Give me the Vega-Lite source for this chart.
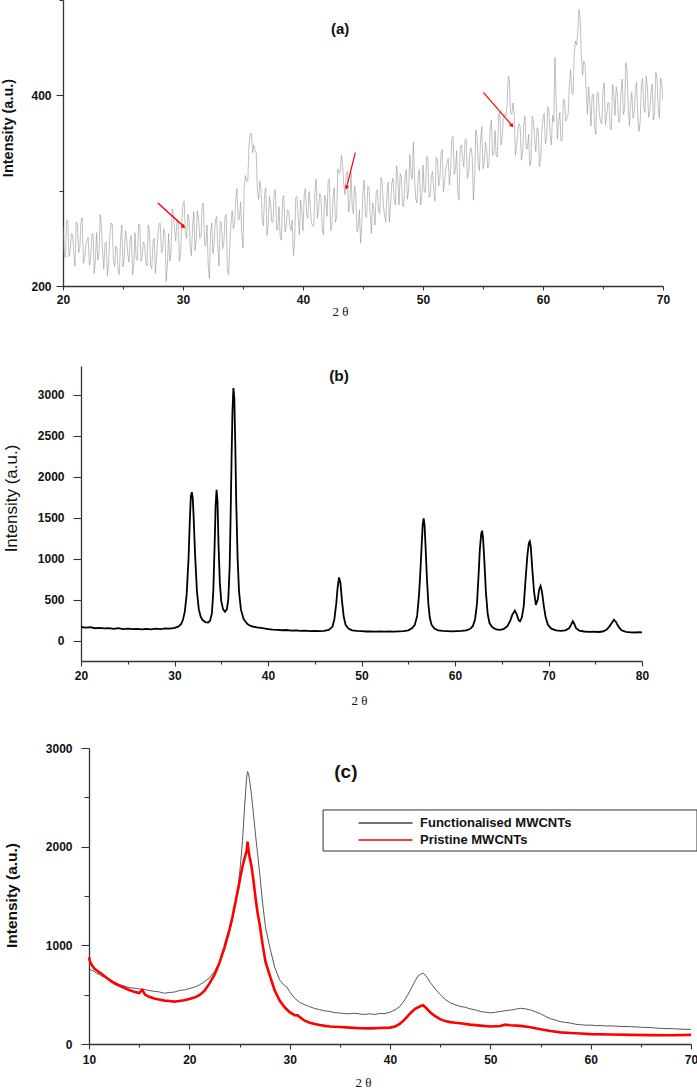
{
"$schema":"https://vega.github.io/schema/vega-lite/v6.json",
"padding":{"left":0,"top":-6,"right":0,"bottom":0},
"config":{"view":{"stroke":null},"axis":{"labelFont":"Liberation Sans","labelFontWeight":"bold","labelColor":"#111","labelFontSize":12,"titleFont":"Liberation Sans","titleColor":"#111","domainColor":"#333","tickColor":"#333","domainWidth":1.3,"tickWidth":1.1,"grid":false,"labelFlush":false,"labelOverlap":false,"format":"d"}},
"datasets":{
"a":[{"t":20.0,"i":263},{"t":20.2,"i":230},{"t":20.4,"i":269},{"t":20.6,"i":237},{"t":20.8,"i":254},{"t":21.0,"i":221},{"t":21.2,"i":265},{"t":21.4,"i":239},{"t":21.6,"i":272},{"t":21.8,"i":229},{"t":22.0,"i":248},{"t":22.2,"i":222},{"t":22.4,"i":254},{"t":22.6,"i":213},{"t":22.8,"i":256},{"t":23.0,"i":235},{"t":23.2,"i":262},{"t":23.4,"i":218},{"t":23.6,"i":246},{"t":23.8,"i":223},{"t":24.0,"i":266},{"t":24.2,"i":228},{"t":24.4,"i":242},{"t":24.6,"i":214},{"t":24.8,"i":251},{"t":25.0,"i":220},{"t":25.2,"i":258},{"t":25.4,"i":233},{"t":25.6,"i":249},{"t":25.8,"i":212},{"t":26.0,"i":256},{"t":26.2,"i":227},{"t":26.4,"i":264},{"t":26.6,"i":231},{"t":26.8,"i":243},{"t":27.0,"i":221},{"t":27.2,"i":258},{"t":27.4,"i":218},{"t":27.6,"i":250},{"t":27.8,"i":230},{"t":28.0,"i":265},{"t":28.2,"i":235},{"t":28.4,"i":260},{"t":28.6,"i":205},{"t":28.8,"i":255},{"t":29.0,"i":235},{"t":29.2,"i":275},{"t":29.4,"i":247},{"t":29.6,"i":265},{"t":29.8,"i":234},{"t":30.0,"i":286},{"t":30.2,"i":255},{"t":30.4,"i":275},{"t":30.6,"i":242},{"t":30.8,"i":263},{"t":31.0,"i":237},{"t":31.2,"i":279},{"t":31.4,"i":250},{"t":31.6,"i":285},{"t":31.8,"i":244},{"t":32.0,"i":264},{"t":32.2,"i":208},{"t":32.4,"i":266},{"t":32.6,"i":246},{"t":32.8,"i":273},{"t":33.0,"i":221},{"t":33.2,"i":266},{"t":33.4,"i":245},{"t":33.6,"i":275},{"t":33.8,"i":212},{"t":34.0,"i":266},{"t":34.2,"i":260},{"t":34.4,"i":293},{"t":34.6,"i":269},{"t":34.8,"i":288},{"t":35.0,"i":240},{"t":35.2,"i":316},{"t":35.4,"i":310},{"t":35.6,"i":360},{"t":35.8,"i":340},{"t":36.0,"i":342},{"t":36.2,"i":301},{"t":36.4,"i":310},{"t":36.6,"i":270},{"t":36.8,"i":297},{"t":37.0,"i":253},{"t":37.2,"i":294},{"t":37.4,"i":267},{"t":37.6,"i":299},{"t":37.8,"i":259},{"t":38.0,"i":283},{"t":38.2,"i":248},{"t":38.4,"i":295},{"t":38.6,"i":262},{"t":38.8,"i":279},{"t":39.0,"i":258},{"t":39.2,"i":232},{"t":39.4,"i":293},{"t":39.6,"i":271},{"t":39.8,"i":290},{"t":40.0,"i":258},{"t":40.2,"i":302},{"t":40.4,"i":271},{"t":40.6,"i":285},{"t":40.8,"i":263},{"t":41.0,"i":301},{"t":41.2,"i":271},{"t":41.4,"i":297},{"t":41.6,"i":260},{"t":41.8,"i":295},{"t":42.0,"i":273},{"t":42.2,"i":312},{"t":42.4,"i":262},{"t":42.6,"i":303},{"t":42.8,"i":272},{"t":43.0,"i":318},{"t":43.2,"i":337},{"t":43.4,"i":306},{"t":43.6,"i":317},{"t":43.8,"i":278},{"t":44.0,"i":319},{"t":44.2,"i":276},{"t":44.4,"i":296},{"t":44.6,"i":261},{"t":44.8,"i":245},{"t":45.0,"i":300},{"t":45.2,"i":273},{"t":45.4,"i":305},{"t":45.6,"i":276},{"t":45.8,"i":287},{"t":46.0,"i":264},{"t":46.2,"i":301},{"t":46.4,"i":276},{"t":46.6,"i":309},{"t":46.8,"i":274},{"t":47.0,"i":298},{"t":47.2,"i":267},{"t":47.4,"i":308},{"t":47.6,"i":291},{"t":47.8,"i":326},{"t":48.0,"i":285},{"t":48.2,"i":314},{"t":48.4,"i":283},{"t":48.6,"i":322},{"t":48.8,"i":301},{"t":49.0,"i":318},{"t":49.2,"i":351},{"t":49.4,"i":291},{"t":49.6,"i":315},{"t":49.8,"i":285},{"t":50.0,"i":327},{"t":50.2,"i":298},{"t":50.4,"i":335},{"t":50.6,"i":294},{"t":50.8,"i":320},{"t":51.0,"i":289},{"t":51.2,"i":333},{"t":51.4,"i":311},{"t":51.6,"i":343},{"t":51.8,"i":309},{"t":52.0,"i":329},{"t":52.2,"i":306},{"t":52.4,"i":355},{"t":52.6,"i":317},{"t":52.8,"i":342},{"t":53.0,"i":290},{"t":53.2,"i":348},{"t":53.4,"i":325},{"t":53.6,"i":354},{"t":53.8,"i":319},{"t":54.0,"i":345},{"t":54.2,"i":290},{"t":54.4,"i":364},{"t":54.6,"i":329},{"t":54.8,"i":355},{"t":55.0,"i":323},{"t":55.2,"i":351},{"t":55.4,"i":324},{"t":55.6,"i":366},{"t":55.8,"i":337},{"t":56.0,"i":363},{"t":56.2,"i":336},{"t":56.4,"i":383},{"t":56.6,"i":357},{"t":56.8,"i":380},{"t":57.0,"i":388},{"t":57.2,"i":417},{"t":57.4,"i":380},{"t":57.6,"i":380},{"t":57.8,"i":347},{"t":58.0,"i":370},{"t":58.2,"i":332},{"t":58.4,"i":370},{"t":58.6,"i":344},{"t":58.8,"i":359},{"t":59.0,"i":331},{"t":59.2,"i":373},{"t":59.4,"i":341},{"t":59.6,"i":365},{"t":59.8,"i":332},{"t":60.0,"i":377},{"t":60.2,"i":349},{"t":60.4,"i":388},{"t":60.6,"i":358},{"t":60.8,"i":379},{"t":61.0,"i":440},{"t":61.2,"i":354},{"t":61.4,"i":382},{"t":61.6,"i":353},{"t":61.8,"i":394},{"t":62.0,"i":376},{"t":62.2,"i":413},{"t":62.4,"i":403},{"t":62.6,"i":442},{"t":62.8,"i":453},{"t":63.0,"i":490},{"t":63.2,"i":440},{"t":63.4,"i":436},{"t":63.6,"i":404},{"t":63.8,"i":409},{"t":64.0,"i":368},{"t":64.2,"i":401},{"t":64.4,"i":359},{"t":64.6,"i":403},{"t":64.8,"i":372},{"t":65.0,"i":405},{"t":65.2,"i":369},{"t":65.4,"i":392},{"t":65.6,"i":365},{"t":65.8,"i":411},{"t":66.0,"i":379},{"t":66.2,"i":402},{"t":66.4,"i":372},{"t":66.6,"i":417},{"t":66.8,"i":385},{"t":67.0,"i":427},{"t":67.2,"i":368},{"t":67.4,"i":403},{"t":67.6,"i":381},{"t":67.8,"i":414},{"t":68.0,"i":362},{"t":68.2,"i":411},{"t":68.4,"i":387},{"t":68.6,"i":420},{"t":68.8,"i":377},{"t":69.0,"i":402},{"t":69.2,"i":374},{"t":69.4,"i":424},{"t":69.6,"i":387},{"t":69.8,"i":418},{"t":70.0,"i":395},
{"t":20.1,"i":233},{"t":20.3,"i":269},{"t":20.5,"i":231},{"t":20.7,"i":255},{"t":20.9,"i":232},{"t":21.1,"i":267},{"t":21.3,"i":235},{"t":21.5,"i":268},{"t":21.7,"i":224},{"t":21.9,"i":243},{"t":22.1,"i":251},{"t":22.3,"i":227},{"t":22.5,"i":255},{"t":22.7,"i":227},{"t":22.9,"i":227},{"t":23.1,"i":275},{"t":23.3,"i":237},{"t":23.5,"i":245},{"t":23.7,"i":211},{"t":23.9,"i":252},{"t":24.1,"i":265},{"t":24.3,"i":220},{"t":24.5,"i":238},{"t":24.7,"i":212},{"t":24.9,"i":264},{"t":25.1,"i":230},{"t":25.3,"i":251},{"t":25.5,"i":225},{"t":25.7,"i":253},{"t":25.9,"i":222},{"t":26.1,"i":228},{"t":26.3,"i":265},{"t":26.5,"i":226},{"t":26.7,"i":246},{"t":26.9,"i":226},{"t":27.1,"i":264},{"t":27.3,"i":221},{"t":27.5,"i":246},{"t":27.7,"i":213},{"t":27.9,"i":252},{"t":28.1,"i":266},{"t":28.3,"i":237},{"t":28.5,"i":254},{"t":28.7,"i":222},{"t":28.9,"i":226},{"t":29.1,"i":281},{"t":29.3,"i":258},{"t":29.5,"i":269},{"t":29.7,"i":226},{"t":29.9,"i":267},{"t":30.1,"i":289},{"t":30.3,"i":250},{"t":30.5,"i":269},{"t":30.7,"i":232},{"t":30.9,"i":278},{"t":31.1,"i":249},{"t":31.3,"i":270},{"t":31.5,"i":252},{"t":31.7,"i":287},{"t":31.9,"i":242},{"t":32.1,"i":222},{"t":32.3,"i":256},{"t":32.5,"i":234},{"t":32.7,"i":269},{"t":32.9,"i":241},{"t":33.1,"i":268},{"t":33.3,"i":239},{"t":33.5,"i":272},{"t":33.7,"i":217},{"t":33.9,"i":243},{"t":34.1,"i":279},{"t":34.3,"i":266},{"t":34.5,"i":302},{"t":34.7,"i":271},{"t":34.9,"i":255},{"t":35.1,"i":304},{"t":35.3,"i":310},{"t":35.5,"i":348},{"t":35.7,"i":360},{"t":35.9,"i":348},{"t":36.1,"i":340},{"t":36.3,"i":291},{"t":36.5,"i":300},{"t":36.7,"i":263},{"t":36.9,"i":303},{"t":37.1,"i":265},{"t":37.3,"i":286},{"t":37.5,"i":267},{"t":37.7,"i":301},{"t":37.9,"i":259},{"t":38.1,"i":252},{"t":38.3,"i":291},{"t":38.5,"i":257},{"t":38.7,"i":280},{"t":38.9,"i":263},{"t":39.1,"i":269},{"t":39.3,"i":246},{"t":39.5,"i":294},{"t":39.7,"i":254},{"t":39.9,"i":278},{"t":40.1,"i":296},{"t":40.3,"i":276},{"t":40.5,"i":299},{"t":40.7,"i":266},{"t":40.9,"i":263},{"t":41.1,"i":312},{"t":41.3,"i":281},{"t":41.5,"i":292},{"t":41.7,"i":254},{"t":41.9,"i":291},{"t":42.1,"i":311},{"t":42.3,"i":258},{"t":42.5,"i":293},{"t":42.7,"i":267},{"t":42.9,"i":323},{"t":43.1,"i":319},{"t":43.3,"i":327},{"t":43.5,"i":296},{"t":43.7,"i":320},{"t":43.9,"i":287},{"t":44.1,"i":284},{"t":44.3,"i":305},{"t":44.5,"i":257},{"t":44.7,"i":280},{"t":44.9,"i":267},{"t":45.1,"i":311},{"t":45.3,"i":272},{"t":45.5,"i":303},{"t":45.7,"i":255},{"t":45.9,"i":280},{"t":46.1,"i":299},{"t":46.3,"i":278},{"t":46.5,"i":314},{"t":46.7,"i":284},{"t":46.9,"i":267},{"t":47.1,"i":309},{"t":47.3,"i":285},{"t":47.5,"i":313},{"t":47.7,"i":285},{"t":47.9,"i":313},{"t":48.1,"i":318},{"t":48.3,"i":284},{"t":48.5,"i":313},{"t":48.7,"i":291},{"t":48.9,"i":338},{"t":49.1,"i":312},{"t":49.3,"i":310},{"t":49.5,"i":287},{"t":49.7,"i":322},{"t":49.9,"i":294},{"t":50.1,"i":299},{"t":50.3,"i":336},{"t":50.5,"i":293},{"t":50.7,"i":316},{"t":50.9,"i":299},{"t":51.1,"i":335},{"t":51.3,"i":305},{"t":51.5,"i":339},{"t":51.7,"i":299},{"t":51.9,"i":323},{"t":52.1,"i":334},{"t":52.3,"i":320},{"t":52.5,"i":357},{"t":52.7,"i":322},{"t":52.9,"i":297},{"t":53.1,"i":345},{"t":53.3,"i":334},{"t":53.5,"i":353},{"t":53.7,"i":313},{"t":53.9,"i":339},{"t":54.1,"i":336},{"t":54.3,"i":312},{"t":54.5,"i":357},{"t":54.7,"i":321},{"t":54.9,"i":367},{"t":55.1,"i":328},{"t":55.3,"i":343},{"t":55.5,"i":329},{"t":55.7,"i":374},{"t":55.9,"i":338},{"t":56.1,"i":336},{"t":56.3,"i":379},{"t":56.5,"i":348},{"t":56.7,"i":378},{"t":56.9,"i":378},{"t":57.1,"i":420},{"t":57.3,"i":382},{"t":57.5,"i":392},{"t":57.7,"i":337},{"t":57.9,"i":363},{"t":58.1,"i":367},{"t":58.3,"i":340},{"t":58.5,"i":378},{"t":58.7,"i":344},{"t":58.9,"i":326},{"t":59.1,"i":378},{"t":59.3,"i":354},{"t":59.5,"i":366},{"t":59.7,"i":325},{"t":59.9,"i":362},{"t":60.1,"i":381},{"t":60.3,"i":354},{"t":60.5,"i":383},{"t":60.7,"i":348},{"t":60.9,"i":372},{"t":61.1,"i":392},{"t":61.3,"i":373},{"t":61.5,"i":352},{"t":61.7,"i":396},{"t":61.9,"i":373},{"t":62.1,"i":381},{"t":62.3,"i":427},{"t":62.5,"i":401},{"t":62.7,"i":457},{"t":62.9,"i":466},{"t":63.1,"i":480},{"t":63.3,"i":421},{"t":63.5,"i":432},{"t":63.7,"i":380},{"t":63.9,"i":393},{"t":64.1,"i":401},{"t":64.3,"i":369},{"t":64.5,"i":402},{"t":64.7,"i":380},{"t":64.9,"i":370},{"t":65.1,"i":413},{"t":65.3,"i":378},{"t":65.5,"i":392},{"t":65.7,"i":364},{"t":65.9,"i":402},{"t":66.1,"i":409},{"t":66.3,"i":372},{"t":66.5,"i":405},{"t":66.7,"i":380},{"t":66.9,"i":434},{"t":67.1,"i":389},{"t":67.3,"i":391},{"t":67.5,"i":376},{"t":67.7,"i":405},{"t":67.9,"i":376},{"t":68.1,"i":373},{"t":68.3,"i":418},{"t":68.5,"i":382},{"t":68.7,"i":408},{"t":68.9,"i":384},{"t":69.1,"i":412},{"t":69.3,"i":382},{"t":69.5,"i":418},{"t":69.7,"i":376},{"t":69.9,"i":411}],
"b":[{"t":20.0,"i":165},{"t":20.5,"i":158},{"t":21.0,"i":162},{"t":21.5,"i":150},{"t":22.0,"i":155},{"t":22.5,"i":148},{"t":23.0,"i":152},{"t":23.5,"i":143},{"t":24.0,"i":150},{"t":24.5,"i":140},{"t":25.0,"i":146},{"t":25.5,"i":138},{"t":26.0,"i":143},{"t":26.5,"i":136},{"t":27.0,"i":142},{"t":27.5,"i":137},{"t":28.0,"i":145},{"t":28.5,"i":140},{"t":29.0,"i":148},{"t":29.5,"i":146},{"t":30.0,"i":155},{"t":30.4,"i":170},{"t":30.7,"i":200},{"t":30.9,"i":250},{"t":31.1,"i":350},{"t":31.3,"i":560},{"t":31.5,"i":1000},{"t":31.65,"i":1500},{"t":31.75,"i":1760},{"t":31.85,"i":1810},{"t":31.95,"i":1740},{"t":32.05,"i":1500},{"t":32.2,"i":1050},{"t":32.4,"i":600},{"t":32.6,"i":380},{"t":32.8,"i":290},{"t":33.0,"i":250},{"t":33.3,"i":225},{"t":33.6,"i":220},{"t":33.8,"i":240},{"t":34.0,"i":330},{"t":34.15,"i":600},{"t":34.3,"i":1200},{"t":34.4,"i":1650},{"t":34.5,"i":1840},{"t":34.6,"i":1700},{"t":34.7,"i":1200},{"t":34.85,"i":700},{"t":35.0,"i":480},{"t":35.2,"i":380},{"t":35.4,"i":350},{"t":35.6,"i":380},{"t":35.75,"i":500},{"t":35.9,"i":900},{"t":36.0,"i":1500},{"t":36.1,"i":2200},{"t":36.2,"i":2800},{"t":36.3,"i":3080},{"t":36.4,"i":2950},{"t":36.5,"i":2400},{"t":36.6,"i":1700},{"t":36.75,"i":1000},{"t":36.9,"i":600},{"t":37.1,"i":380},{"t":37.4,"i":260},{"t":37.8,"i":200},{"t":38.2,"i":175},{"t":38.8,"i":160},{"t":39.4,"i":150},{"t":40.0,"i":140},{"t":40.5,"i":132},{"t":41.0,"i":130},{"t":41.5,"i":125},{"t":42.0,"i":128},{"t":42.5,"i":120},{"t":43.0,"i":124},{"t":43.5,"i":117},{"t":44.0,"i":120},{"t":44.5,"i":115},{"t":45.0,"i":118},{"t":45.5,"i":114},{"t":46.0,"i":118},{"t":46.5,"i":130},{"t":46.9,"i":170},{"t":47.1,"i":260},{"t":47.3,"i":450},{"t":47.45,"i":650},{"t":47.6,"i":770},{"t":47.75,"i":700},{"t":47.9,"i":500},{"t":48.1,"i":290},{"t":48.3,"i":190},{"t":48.6,"i":145},{"t":49.0,"i":125},{"t":49.5,"i":118},{"t":50.0,"i":114},{"t":50.5,"i":110},{"t":51.0,"i":112},{"t":51.5,"i":108},{"t":52.0,"i":111},{"t":52.5,"i":108},{"t":53.0,"i":110},{"t":53.5,"i":108},{"t":54.0,"i":112},{"t":54.5,"i":115},{"t":55.0,"i":125},{"t":55.4,"i":150},{"t":55.7,"i":190},{"t":55.95,"i":300},{"t":56.15,"i":550},{"t":56.3,"i":850},{"t":56.45,"i":1200},{"t":56.55,"i":1420},{"t":56.65,"i":1490},{"t":56.75,"i":1400},{"t":56.85,"i":1150},{"t":57.0,"i":750},{"t":57.15,"i":450},{"t":57.3,"i":280},{"t":57.5,"i":190},{"t":57.8,"i":145},{"t":58.2,"i":125},{"t":58.7,"i":118},{"t":59.2,"i":115},{"t":59.7,"i":112},{"t":60.2,"i":115},{"t":60.7,"i":118},{"t":61.2,"i":125},{"t":61.6,"i":140},{"t":61.9,"i":175},{"t":62.15,"i":260},{"t":62.35,"i":450},{"t":62.5,"i":750},{"t":62.65,"i":1100},{"t":62.8,"i":1300},{"t":62.9,"i":1340},{"t":63.0,"i":1250},{"t":63.15,"i":950},{"t":63.3,"i":600},{"t":63.5,"i":320},{"t":63.7,"i":210},{"t":64.0,"i":160},{"t":64.4,"i":135},{"t":64.8,"i":130},{"t":65.2,"i":140},{"t":65.6,"i":175},{"t":65.9,"i":240},{"t":66.15,"i":320},{"t":66.4,"i":365},{"t":66.6,"i":320},{"t":66.8,"i":250},{"t":66.95,"i":235},{"t":67.15,"i":280},{"t":67.35,"i":420},{"t":67.55,"i":750},{"t":67.75,"i":1050},{"t":67.9,"i":1190},{"t":68.0,"i":1210},{"t":68.1,"i":1150},{"t":68.25,"i":900},{"t":68.45,"i":600},{"t":68.65,"i":435},{"t":68.85,"i":500},{"t":69.0,"i":620},{"t":69.15,"i":665},{"t":69.3,"i":600},{"t":69.5,"i":420},{"t":69.7,"i":280},{"t":69.95,"i":190},{"t":70.3,"i":145},{"t":70.8,"i":125},{"t":71.3,"i":118},{"t":71.8,"i":125},{"t":72.2,"i":150},{"t":72.45,"i":200},{"t":72.6,"i":235},{"t":72.75,"i":205},{"t":72.95,"i":150},{"t":73.3,"i":120},{"t":73.8,"i":110},{"t":74.3,"i":105},{"t":74.8,"i":108},{"t":75.3,"i":104},{"t":75.8,"i":110},{"t":76.2,"i":130},{"t":76.5,"i":170},{"t":76.8,"i":220},{"t":77.0,"i":255},{"t":77.2,"i":230},{"t":77.45,"i":175},{"t":77.8,"i":125},{"t":78.3,"i":105},{"t":78.8,"i":100},{"t":79.3,"i":98},{"t":79.7,"i":102},{"t":80.0,"i":100}],
"c":[{"s":"Functionalised MWCNTs","t":10,"i":770},{"s":"Functionalised MWCNTs","t":10.25,"i":748},{"s":"Functionalised MWCNTs","t":10.5,"i":738},{"s":"Functionalised MWCNTs","t":10.75,"i":716},{"s":"Functionalised MWCNTs","t":11,"i":708},{"s":"Functionalised MWCNTs","t":11.25,"i":690},{"s":"Functionalised MWCNTs","t":11.5,"i":684},{"s":"Functionalised MWCNTs","t":11.75,"i":668},{"s":"Functionalised MWCNTs","t":12,"i":652},{"s":"Functionalised MWCNTs","t":12.5,"i":628},{"s":"Functionalised MWCNTs","t":13,"i":604},{"s":"Functionalised MWCNTs","t":13.5,"i":588},{"s":"Functionalised MWCNTs","t":14,"i":572},{"s":"Functionalised MWCNTs","t":14.5,"i":566},{"s":"Functionalised MWCNTs","t":15,"i":558},{"s":"Functionalised MWCNTs","t":15.5,"i":552},{"s":"Functionalised MWCNTs","t":16,"i":542},{"s":"Functionalised MWCNTs","t":16.5,"i":534},{"s":"Functionalised MWCNTs","t":17,"i":528},{"s":"Functionalised MWCNTs","t":17.5,"i":514},{"s":"Functionalised MWCNTs","t":18,"i":522},{"s":"Functionalised MWCNTs","t":18.5,"i":526},{"s":"Functionalised MWCNTs","t":19,"i":542},{"s":"Functionalised MWCNTs","t":19.5,"i":548},{"s":"Functionalised MWCNTs","t":20,"i":562},{"s":"Functionalised MWCNTs","t":20.5,"i":576},{"s":"Functionalised MWCNTs","t":21,"i":598},{"s":"Functionalised MWCNTs","t":21.5,"i":632},{"s":"Functionalised MWCNTs","t":22,"i":668},{"s":"Functionalised MWCNTs","t":22.5,"i":735},{"s":"Functionalised MWCNTs","t":23,"i":822},{"s":"Functionalised MWCNTs","t":23.5,"i":955},{"s":"Functionalised MWCNTs","t":24,"i":1130},{"s":"Functionalised MWCNTs","t":24.3,"i":1260},{"s":"Functionalised MWCNTs","t":24.6,"i":1420},{"s":"Functionalised MWCNTs","t":24.9,"i":1620},{"s":"Functionalised MWCNTs","t":25.1,"i":1820},{"s":"Functionalised MWCNTs","t":25.3,"i":2060},{"s":"Functionalised MWCNTs","t":25.5,"i":2390},{"s":"Functionalised MWCNTs","t":25.7,"i":2690},{"s":"Functionalised MWCNTs","t":25.8,"i":2760},{"s":"Functionalised MWCNTs","t":25.9,"i":2740},{"s":"Functionalised MWCNTs","t":26.0,"i":2680},{"s":"Functionalised MWCNTs","t":26.2,"i":2520},{"s":"Functionalised MWCNTs","t":26.4,"i":2320},{"s":"Functionalised MWCNTs","t":26.6,"i":2120},{"s":"Functionalised MWCNTs","t":26.8,"i":1930},{"s":"Functionalised MWCNTs","t":27.0,"i":1740},{"s":"Functionalised MWCNTs","t":27.3,"i":1430},{"s":"Functionalised MWCNTs","t":27.6,"i":1180},{"s":"Functionalised MWCNTs","t":28.0,"i":990},{"s":"Functionalised MWCNTs","t":28.5,"i":780},{"s":"Functionalised MWCNTs","t":29.0,"i":650},{"s":"Functionalised MWCNTs","t":29.4,"i":600},{"s":"Functionalised MWCNTs","t":29.7,"i":580},{"s":"Functionalised MWCNTs","t":30.0,"i":530},{"s":"Functionalised MWCNTs","t":30.5,"i":465},{"s":"Functionalised MWCNTs","t":31.0,"i":422},{"s":"Functionalised MWCNTs","t":31.5,"i":398},{"s":"Functionalised MWCNTs","t":32.0,"i":378},{"s":"Functionalised MWCNTs","t":32.5,"i":360},{"s":"Functionalised MWCNTs","t":33.0,"i":348},{"s":"Functionalised MWCNTs","t":33.5,"i":336},{"s":"Functionalised MWCNTs","t":34.0,"i":330},{"s":"Functionalised MWCNTs","t":34.5,"i":318},{"s":"Functionalised MWCNTs","t":35.0,"i":314},{"s":"Functionalised MWCNTs","t":35.5,"i":308},{"s":"Functionalised MWCNTs","t":36.0,"i":306},{"s":"Functionalised MWCNTs","t":36.5,"i":312},{"s":"Functionalised MWCNTs","t":37.0,"i":304},{"s":"Functionalised MWCNTs","t":37.5,"i":300},{"s":"Functionalised MWCNTs","t":38.0,"i":306},{"s":"Functionalised MWCNTs","t":38.5,"i":299},{"s":"Functionalised MWCNTs","t":39.0,"i":310},{"s":"Functionalised MWCNTs","t":39.5,"i":308},{"s":"Functionalised MWCNTs","t":40.0,"i":322},{"s":"Functionalised MWCNTs","t":40.5,"i":345},{"s":"Functionalised MWCNTs","t":41.0,"i":382},{"s":"Functionalised MWCNTs","t":41.5,"i":452},{"s":"Functionalised MWCNTs","t":42.0,"i":540},{"s":"Functionalised MWCNTs","t":42.5,"i":640},{"s":"Functionalised MWCNTs","t":42.8,"i":690},{"s":"Functionalised MWCNTs","t":43.0,"i":705},{"s":"Functionalised MWCNTs","t":43.3,"i":718},{"s":"Functionalised MWCNTs","t":43.6,"i":690},{"s":"Functionalised MWCNTs","t":44.0,"i":625},{"s":"Functionalised MWCNTs","t":44.5,"i":560},{"s":"Functionalised MWCNTs","t":45.0,"i":502},{"s":"Functionalised MWCNTs","t":45.5,"i":452},{"s":"Functionalised MWCNTs","t":46.0,"i":418},{"s":"Functionalised MWCNTs","t":46.5,"i":398},{"s":"Functionalised MWCNTs","t":47.0,"i":380},{"s":"Functionalised MWCNTs","t":47.5,"i":372},{"s":"Functionalised MWCNTs","t":48.0,"i":356},{"s":"Functionalised MWCNTs","t":48.5,"i":346},{"s":"Functionalised MWCNTs","t":49.0,"i":330},{"s":"Functionalised MWCNTs","t":49.5,"i":322},{"s":"Functionalised MWCNTs","t":50.0,"i":316},{"s":"Functionalised MWCNTs","t":50.5,"i":322},{"s":"Functionalised MWCNTs","t":51.0,"i":330},{"s":"Functionalised MWCNTs","t":51.5,"i":338},{"s":"Functionalised MWCNTs","t":52.0,"i":344},{"s":"Functionalised MWCNTs","t":52.5,"i":352},{"s":"Functionalised MWCNTs","t":53.0,"i":362},{"s":"Functionalised MWCNTs","t":53.5,"i":356},{"s":"Functionalised MWCNTs","t":54.0,"i":346},{"s":"Functionalised MWCNTs","t":54.5,"i":326},{"s":"Functionalised MWCNTs","t":55.0,"i":306},{"s":"Functionalised MWCNTs","t":55.5,"i":280},{"s":"Functionalised MWCNTs","t":56.0,"i":256},{"s":"Functionalised MWCNTs","t":56.5,"i":242},{"s":"Functionalised MWCNTs","t":57.0,"i":226},{"s":"Functionalised MWCNTs","t":57.5,"i":218},{"s":"Functionalised MWCNTs","t":58.0,"i":212},{"s":"Functionalised MWCNTs","t":58.5,"i":200},{"s":"Functionalised MWCNTs","t":59.0,"i":196},{"s":"Functionalised MWCNTs","t":59.5,"i":190},{"s":"Functionalised MWCNTs","t":60.0,"i":192},{"s":"Functionalised MWCNTs","t":60.5,"i":186},{"s":"Functionalised MWCNTs","t":61.0,"i":188},{"s":"Functionalised MWCNTs","t":61.5,"i":182},{"s":"Functionalised MWCNTs","t":62.0,"i":184},{"s":"Functionalised MWCNTs","t":63.0,"i":178},{"s":"Functionalised MWCNTs","t":64.0,"i":176},{"s":"Functionalised MWCNTs","t":65.0,"i":170},{"s":"Functionalised MWCNTs","t":66.0,"i":166},{"s":"Functionalised MWCNTs","t":67.0,"i":158},{"s":"Functionalised MWCNTs","t":68.0,"i":156},{"s":"Functionalised MWCNTs","t":69.0,"i":150},{"s":"Functionalised MWCNTs","t":70.0,"i":148},
{"s":"Pristine MWCNTs","t":10,"i":880},{"s":"Pristine MWCNTs","t":10.1,"i":835},{"s":"Pristine MWCNTs","t":10.25,"i":805},{"s":"Pristine MWCNTs","t":10.5,"i":768},{"s":"Pristine MWCNTs","t":10.75,"i":748},{"s":"Pristine MWCNTs","t":11,"i":728},{"s":"Pristine MWCNTs","t":11.25,"i":712},{"s":"Pristine MWCNTs","t":11.5,"i":690},{"s":"Pristine MWCNTs","t":11.75,"i":672},{"s":"Pristine MWCNTs","t":12,"i":652},{"s":"Pristine MWCNTs","t":12.5,"i":618},{"s":"Pristine MWCNTs","t":13,"i":592},{"s":"Pristine MWCNTs","t":13.5,"i":570},{"s":"Pristine MWCNTs","t":14,"i":548},{"s":"Pristine MWCNTs","t":14.5,"i":530},{"s":"Pristine MWCNTs","t":15,"i":516},{"s":"Pristine MWCNTs","t":15.3,"i":548},{"s":"Pristine MWCNTs","t":15.6,"i":498},{"s":"Pristine MWCNTs","t":16,"i":478},{"s":"Pristine MWCNTs","t":16.5,"i":462},{"s":"Pristine MWCNTs","t":17,"i":450},{"s":"Pristine MWCNTs","t":17.5,"i":440},{"s":"Pristine MWCNTs","t":18,"i":436},{"s":"Pristine MWCNTs","t":18.5,"i":430},{"s":"Pristine MWCNTs","t":19,"i":436},{"s":"Pristine MWCNTs","t":19.5,"i":444},{"s":"Pristine MWCNTs","t":20,"i":456},{"s":"Pristine MWCNTs","t":20.5,"i":470},{"s":"Pristine MWCNTs","t":21,"i":494},{"s":"Pristine MWCNTs","t":21.5,"i":538},{"s":"Pristine MWCNTs","t":22,"i":612},{"s":"Pristine MWCNTs","t":22.5,"i":700},{"s":"Pristine MWCNTs","t":23,"i":822},{"s":"Pristine MWCNTs","t":23.5,"i":980},{"s":"Pristine MWCNTs","t":24,"i":1160},{"s":"Pristine MWCNTs","t":24.3,"i":1290},{"s":"Pristine MWCNTs","t":24.6,"i":1440},{"s":"Pristine MWCNTs","t":24.9,"i":1590},{"s":"Pristine MWCNTs","t":25.1,"i":1700},{"s":"Pristine MWCNTs","t":25.3,"i":1800},{"s":"Pristine MWCNTs","t":25.5,"i":1880},{"s":"Pristine MWCNTs","t":25.7,"i":1950},{"s":"Pristine MWCNTs","t":25.8,"i":2050},{"s":"Pristine MWCNTs","t":25.9,"i":1960},{"s":"Pristine MWCNTs","t":26.0,"i":1900},{"s":"Pristine MWCNTs","t":26.2,"i":1800},{"s":"Pristine MWCNTs","t":26.4,"i":1650},{"s":"Pristine MWCNTs","t":26.6,"i":1480},{"s":"Pristine MWCNTs","t":26.8,"i":1330},{"s":"Pristine MWCNTs","t":27.0,"i":1220},{"s":"Pristine MWCNTs","t":27.3,"i":1010},{"s":"Pristine MWCNTs","t":27.6,"i":830},{"s":"Pristine MWCNTs","t":28.0,"i":700},{"s":"Pristine MWCNTs","t":28.5,"i":545},{"s":"Pristine MWCNTs","t":29.0,"i":440},{"s":"Pristine MWCNTs","t":29.5,"i":372},{"s":"Pristine MWCNTs","t":30.0,"i":322},{"s":"Pristine MWCNTs","t":30.5,"i":292},{"s":"Pristine MWCNTs","t":30.8,"i":290},{"s":"Pristine MWCNTs","t":31.0,"i":272},{"s":"Pristine MWCNTs","t":31.5,"i":236},{"s":"Pristine MWCNTs","t":32.0,"i":216},{"s":"Pristine MWCNTs","t":32.5,"i":202},{"s":"Pristine MWCNTs","t":33.0,"i":192},{"s":"Pristine MWCNTs","t":33.5,"i":184},{"s":"Pristine MWCNTs","t":34.0,"i":178},{"s":"Pristine MWCNTs","t":35.0,"i":172},{"s":"Pristine MWCNTs","t":36.0,"i":166},{"s":"Pristine MWCNTs","t":37.0,"i":160},{"s":"Pristine MWCNTs","t":38.0,"i":158},{"s":"Pristine MWCNTs","t":39.0,"i":162},{"s":"Pristine MWCNTs","t":40.0,"i":166},{"s":"Pristine MWCNTs","t":40.5,"i":176},{"s":"Pristine MWCNTs","t":41.0,"i":206},{"s":"Pristine MWCNTs","t":41.5,"i":252},{"s":"Pristine MWCNTs","t":42.0,"i":310},{"s":"Pristine MWCNTs","t":42.5,"i":356},{"s":"Pristine MWCNTs","t":43.0,"i":382},{"s":"Pristine MWCNTs","t":43.3,"i":392},{"s":"Pristine MWCNTs","t":43.6,"i":366},{"s":"Pristine MWCNTs","t":44.0,"i":322},{"s":"Pristine MWCNTs","t":44.5,"i":282},{"s":"Pristine MWCNTs","t":45.0,"i":252},{"s":"Pristine MWCNTs","t":45.5,"i":232},{"s":"Pristine MWCNTs","t":46.0,"i":222},{"s":"Pristine MWCNTs","t":46.5,"i":216},{"s":"Pristine MWCNTs","t":47.0,"i":210},{"s":"Pristine MWCNTs","t":48.0,"i":196},{"s":"Pristine MWCNTs","t":49.0,"i":186},{"s":"Pristine MWCNTs","t":50.0,"i":178},{"s":"Pristine MWCNTs","t":51.0,"i":182},{"s":"Pristine MWCNTs","t":51.5,"i":196},{"s":"Pristine MWCNTs","t":52.0,"i":190},{"s":"Pristine MWCNTs","t":53.0,"i":184},{"s":"Pristine MWCNTs","t":54.0,"i":170},{"s":"Pristine MWCNTs","t":55.0,"i":150},{"s":"Pristine MWCNTs","t":56.0,"i":132},{"s":"Pristine MWCNTs","t":57.0,"i":118},{"s":"Pristine MWCNTs","t":58.0,"i":112},{"s":"Pristine MWCNTs","t":59.0,"i":106},{"s":"Pristine MWCNTs","t":60.0,"i":100},{"s":"Pristine MWCNTs","t":62.0,"i":96},{"s":"Pristine MWCNTs","t":64.0,"i":92},{"s":"Pristine MWCNTs","t":66.0,"i":90},{"s":"Pristine MWCNTs","t":68.0,"i":88},{"s":"Pristine MWCNTs","t":70.0,"i":92}]
},
"spacing":48,
"vconcat":[
{"width":600,"height":286,
 "layer":[
  {"data":{"name":"a"},"mark":{"type":"line","color":"#8c8c8c","strokeWidth":0.55,"clip":true},
   "encoding":{
    "x":{"field":"t","type":"quantitative","scale":{"domain":[20,70],"nice":false,"zero":false},
      "axis":{"values":[20,25,30,35,40,45,50,55,60,65,70],"labelExpr":"datum.value % 10 === 0 ? datum.label : ''","tickSize":{"condition":{"test":"datum.value % 10 === 0","value":4},"value":3},"labelPadding":4,"title":"2 θ","titleFont":"Liberation Serif","titleFontWeight":"normal","titleFontSize":13,"titleX":277,"titleY":25,"titleBaseline":"middle","titleAlign":"center"}},
    "y":{"field":"i","type":"quantitative","scale":{"domain":[200,500],"nice":false,"zero":false},
      "axis":{"values":[200,300,400,500],"labelExpr":"datum.value == 200 || datum.value == 400 ? datum.label : ''","tickSize":{"condition":{"test":"datum.value % 200 === 0","value":7},"value":4},"labelPadding":5,"title":"Intensity (a.u.)","titleFontSize":14.5,"titleFontWeight":"bold","titleX":-54.5,"titleY":127.5,"titleBaseline":"middle","titleAlign":"center","titleAngle":-90}}}},
  {"data":{"values":[{}]},"mark":{"type":"rule","color":"red","strokeWidth":1.4},"encoding":{"x":{"datum":27.9,"type":"quantitative"},"y":{"datum":287,"type":"quantitative"},"x2":{"datum":30.1},"y2":{"datum":262}}},
  {"data":{"values":[{}]},"mark":{"type":"rule","color":"red","strokeWidth":1.2},"encoding":{"x":{"datum":44.36,"type":"quantitative"},"y":{"datum":340,"type":"quantitative"},"x2":{"datum":43.62},"y2":{"datum":303}}},
  {"data":{"values":[{}]},"mark":{"type":"rule","color":"red","strokeWidth":1.2},"encoding":{"x":{"datum":55.03,"type":"quantitative"},"y":{"datum":403,"type":"quantitative"},"x2":{"datum":57.45},"y2":{"datum":368}}},
  {"data":{"values":[{}]},"mark":{"type":"point","shape":"triangle-up","filled":true,"color":"red","opacity":1,"size":22,"angle":134},"encoding":{"x":{"datum":30.05,"type":"quantitative"},"y":{"datum":262,"type":"quantitative"}}},
  {"data":{"values":[{}]},"mark":{"type":"point","shape":"triangle-up","filled":true,"color":"red","opacity":1,"size":22,"angle":194},"encoding":{"x":{"datum":43.62,"type":"quantitative"},"y":{"datum":303,"type":"quantitative"}}},
  {"data":{"values":[{}]},"mark":{"type":"point","shape":"triangle-up","filled":true,"color":"red","opacity":1,"size":22,"angle":139},"encoding":{"x":{"datum":57.42,"type":"quantitative"},"y":{"datum":368,"type":"quantitative"}}},
  {"data":{"values":[{}]},"mark":{"type":"text","text":"(a)","font":"Liberation Sans","fontWeight":"bold","fontSize":15,"color":"#111"},"encoding":{"x":{"datum":43.1,"type":"quantitative"},"y":{"datum":470,"type":"quantitative"}}}
 ]},
{"spacing":34,
 "vconcat":[
 {"width":579,"height":295,
  "layer":[
   {"data":{"name":"b"},"mark":{"type":"line","color":"#000","strokeWidth":1.8,"clip":true},
    "encoding":{
     "x":{"field":"t","type":"quantitative","scale":{"domain":[20,80],"range":[18,579],"nice":false,"zero":false},
       "axis":{"values":[20,25,30,35,40,45,50,55,60,65,70,75,80],"labelExpr":"datum.value % 10 === 0 ? datum.label : ''","tickSize":{"condition":{"test":"datum.value % 10 === 0","value":5},"value":3},"labelPadding":4,"labelFontWeight":"bold","title":"2 θ","titleFont":"Liberation Serif","titleFontWeight":"normal","titleFontSize":13,"titleX":296,"titleY":39.3,"titleBaseline":"middle","titleAlign":"center"}},
     "y":{"field":"i","type":"quantitative","scale":{"domain":[-250,3350],"nice":false,"zero":false},
       "axis":{"offset":-18,"values":[0,250,500,750,1000,1250,1500,1750,2000,2250,2500,2750,3000,3250],"labelExpr":"datum.value % 500 === 0 ? datum.label : ''","tickSize":{"condition":{"test":"datum.value % 500 === 0","value":8},"value":4},"labelPadding":9,"labelFontWeight":"bold","labelFont":"Liberation Sans","labelFontSize":12,"labelColor":"#111","title":"Intensity (a.u.)","titleFontSize":17,"titleFontWeight":"normal","titleX":-69.5,"titleY":132,"titleBaseline":"middle","titleAlign":"center","titleAngle":-90}}}},
   {"data":{"values":[{}]},"mark":{"type":"text","text":"(b)","font":"Liberation Sans","fontWeight":"bold","fontSize":15.5,"color":"#111"},"encoding":{"x":{"datum":47.6,"type":"quantitative"},"y":{"datum":3232,"type":"quantitative"}}}
  ]},
 {"width":628,"height":296,
  "layer":[
   {"data":{"values":[{}]},"mark":{"type":"rect","filled":false,"stroke":"#333","strokeWidth":1,"clip":false},"encoding":{"x":{"datum":33.33,"type":"quantitative","scale":{"domain":[10,70],"range":[26,628],"nice":false,"zero":false}},"x2":{"datum":70.6},"y":{"datum":2372,"type":"quantitative","scale":{"domain":[0,3000],"nice":false,"zero":false}},"y2":{"datum":1956}}},
   {"data":{"name":"c"},"transform":[{"filter":"datum.s === 'Functionalised MWCNTs'"}],"mark":{"type":"line","strokeWidth":0.9,"clip":true},
    "encoding":{
     "x":{"field":"t","type":"quantitative","scale":{"domain":[10,70],"range":[26,628],"nice":false,"zero":false},
       "axis":{"values":[10,15,20,25,30,35,40,45,50,55,60,65,70],"labelExpr":"datum.value % 10 === 0 ? datum.label : ''","tickSize":{"condition":{"test":"datum.value % 10 === 0","value":5},"value":3},"labelPadding":5,"title":"2 θ","titleFont":"Liberation Serif","titleFontWeight":"normal","titleFontSize":13,"titleX":300,"titleY":38,"titleBaseline":"middle","titleAlign":"center"}},
     "y":{"field":"i","type":"quantitative","scale":{"domain":[0,3000],"nice":false,"zero":false},
       "axis":{"offset":-26,"values":[0,500,1000,1500,2000,2500,3000],"labelExpr":"datum.value % 1000 === 0 ? datum.label : ''","tickSize":{"condition":{"test":"datum.value % 1000 === 0","value":8},"value":5},"labelPadding":9,"title":"Intensity (a.u.)","titleFontSize":15.5,"titleFontWeight":"bold","titleX":-78,"titleY":147,"titleBaseline":"middle","titleAlign":"center","titleAngle":-90}},
     "color":{"field":"s","type":"nominal","scale":{"domain":["Functionalised MWCNTs","Pristine MWCNTs"],"range":["#444444","#ff0000"]},
       "legend":{"title":null,"orient":"none","legendX":316,"legendY":816.5,"symbolType":"M-5.4,0H5.4","symbolSize":100,"symbolStrokeWidth":1.5,"labelFont":"Liberation Sans","labelFontWeight":"bold","labelFontSize":13,"labelColor":"#111","labelOffset":28,"rowPadding":3,"padding":0}}}},
   {"data":{"name":"c"},"transform":[{"filter":"datum.s === 'Pristine MWCNTs'"}],"mark":{"type":"line","strokeWidth":2.6,"clip":true},
    "encoding":{
     "x":{"field":"t","type":"quantitative"},
     "y":{"field":"i","type":"quantitative"},
     "color":{"field":"s","type":"nominal"}}},
   {"data":{"values":[{}]},"mark":{"type":"text","text":"(c)","font":"Liberation Sans","fontWeight":"bold","fontSize":19,"color":"#111"},"encoding":{"x":{"datum":35.6,"type":"quantitative"},"y":{"datum":2757,"type":"quantitative"}}}
  ]}
 ]}
]
}
